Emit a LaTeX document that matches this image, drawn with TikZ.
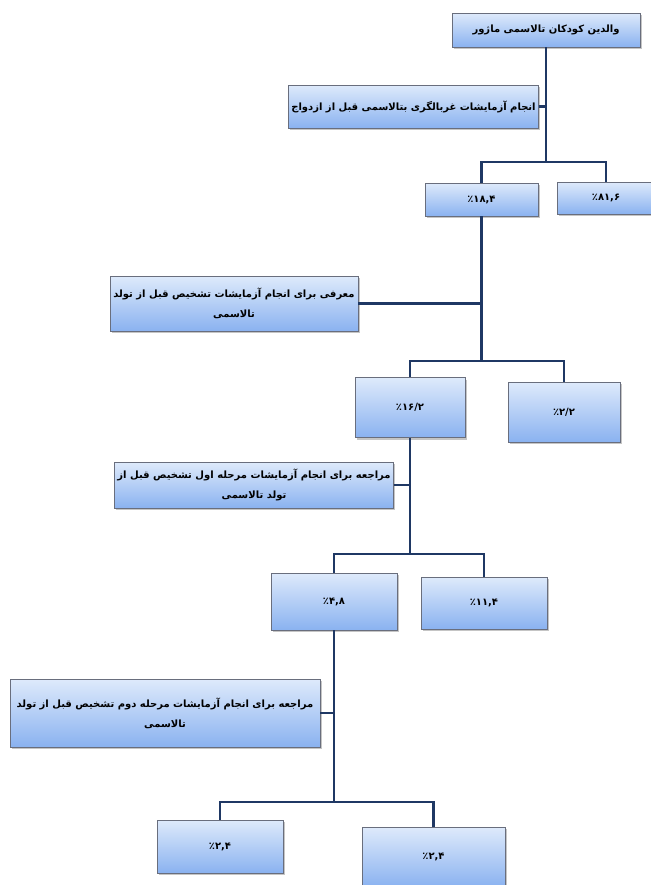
\documentclass[tikz,border=0pt]{standalone}
\usepackage{fontspec}
\usepackage{tikz}
\usetikzlibrary{shadows}
\TeXXeTstate=1
\newfontfamily\fa[Script=Arabic]{DejaVu Sans}
\definecolor{linkblue}{RGB}{31,56,100}
\definecolor{boxtop}{RGB}{222,234,251}
\definecolor{boxbot}{RGB}{138,178,240}
\definecolor{boxedge}{RGB}{105,110,125}
\def\rtl#1{\beginR #1\endR}
% values: one box per sign, so they read left to right
\def\val#1{\valloop#1\relax}
\def\valloop#1{\ifx#1\relax\else\mbox{#1}\expandafter\valloop\fi}
\tikzset{
	box/.style={draw=boxedge, line width=0.6pt, top color=boxtop, bottom color=boxbot, align=center, inner sep=2pt,
		drop shadow={shadow xshift=1.2pt, shadow yshift=-1.5pt, fill=black!45},
		font=\fontsize{7.5}{15}\selectfont\fa\bfseries},
	link/.style={draw=linkblue, line width=2.2pt}
}

\begin{document}
\begin{tikzpicture}[x=0.75pt, y=-0.75pt]
		%%%%% START %%%%%
		\useasboundingbox[fill=white] (0, 0) rectangle (650, 885);
		
		% first level
		\node[box, minimum width=141pt, minimum height=25.5pt] (root) at (546, 30) {\rtl{والدین کودکان تالاسمی ماژور}};
		\node[box, minimum width=167.25pt, minimum height=32.25pt] (screen) at (413.5, 106.5) {\rtl{انجام آزمایشات غربالگری بتالاسمی قبل از ازدواج}};
		\node[box, minimum width=84.75pt, minimum height=24.75pt] (p184) at (481.5, 199.5) {\val{٪۱۸,۴}};
		\node[box, minimum width=73.5pt, minimum height=24pt] (p816) at (606, 198) {\val{٪۸۱,۶}};
		
		\coordinate (j1) at (546, 162);
		\draw[link] (root) -- (j1);
		\draw[link] (screen.east) -- (screen.east -| j1);
		\draw[link] (j1) -| (p184.north);
		\draw[link] (j1) -| (p816.north);
		
		% second level
		\node[box, minimum width=186pt, minimum height=41.25pt] (refer) at (234, 303.5) {\rtl{معرفی برای انجام آزمایشات تشخیص قبل از تولد}\\ \rtl{تالاسمی}};
		\node[box, minimum width=82.5pt, minimum height=45pt] (p162) at (410, 407.5) {\val{٪۱۶/۲}};
		\node[box, minimum width=84pt, minimum height=45pt] (p22) at (564, 412) {\val{٪۲/۲}};
		
		\coordinate (j2) at (481.5, 361);
		\draw[link] (p184) -- (j2);
		\draw[link] (refer.east) -- (refer.east -| j2);
		\draw[link] (j2) -| (p162.north);
		\draw[link] (j2) -| (p22.north);
		
		% third level
		\node[box, minimum width=186pt, minimum height=34.5pt] (first) at (254, 485) {\rtl{مراجعه برای انجام آزمایشات مرحله اول تشخیص قبل از}\\ \rtl{تولد تالاسمی}};
		\node[box, minimum width=94.5pt, minimum height=42.75pt] (p48) at (334, 601.5) {\val{٪۴,۸}};
		\node[box, minimum width=94.5pt, minimum height=39pt] (p114) at (484, 603) {\val{٪۱۱,۴}};
		
		\coordinate (j3) at (410, 554);
		\draw[link] (p162) -- (j3);
		\draw[link] (first.east) -- (first.east -| j3);
		\draw[link] (j3) -| (p48.north);
		\draw[link] (j3) -| (p114.north);
		
		% fourth level
		\node[box, minimum width=232.5pt, minimum height=51pt] (second) at (165, 713) {\rtl{مراجعه برای انجام آزمایشات مرحله دوم تشخیص قبل از تولد}\\ \rtl{تالاسمی}};
		\node[box, minimum width=94.5pt, minimum height=39.75pt] (p24a) at (220, 846.5) {\val{٪۲,۴}};
		\node[box, minimum width=107.25pt, minimum height=45pt] (p24b) at (433.5, 857) {\val{٪۲,۴}};
		
		\coordinate (j4) at (334, 802);
		\draw[link] (p48) -- (j4);
		\draw[link] (second.east) -- (second.east -| j4);
		\draw[link] (j4) -| (p24a.north);
		\draw[link] (j4) -| (p24b.north);
		
		%%%%% END %%%%%
	\end{tikzpicture}
\end{document}
